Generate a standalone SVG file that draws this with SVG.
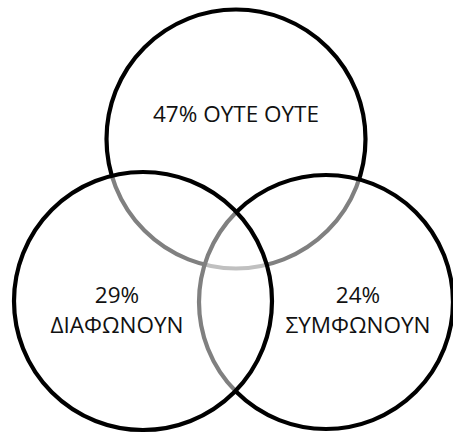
<svg xmlns="http://www.w3.org/2000/svg" width="453" height="434" viewBox="0 0 453 434">
<style>
.c{fill:#fff;fill-opacity:0.5;stroke:#000;stroke-width:4.2}
.t{font-family:"Open Sans","Noto Sans","Liberation Sans",sans-serif;font-size:22.5px;fill:#111;text-anchor:middle}
</style>
<rect width="453" height="434" fill="#fff"/>
<g id="top"><circle class="c" cx="236" cy="139" r="129.5"/></g>
<g id="right"><circle class="c" cx="326" cy="302" r="127"/></g>
<g id="left"><circle class="c" cx="143" cy="301" r="129"/></g>
<g id="labels">
<text class="t" x="236" y="122">47% ΟΥΤΕ ΟΥΤΕ</text>
<text class="t" x="117" y="303">29%</text>
<text class="t" x="117" y="333">ΔΙΑΦΩΝΟΥΝ</text>
<text class="t" x="358" y="303">24%</text>
<text class="t" x="358" y="333">ΣΥΜΦΩΝΟΥΝ</text>
</g>
</svg>
